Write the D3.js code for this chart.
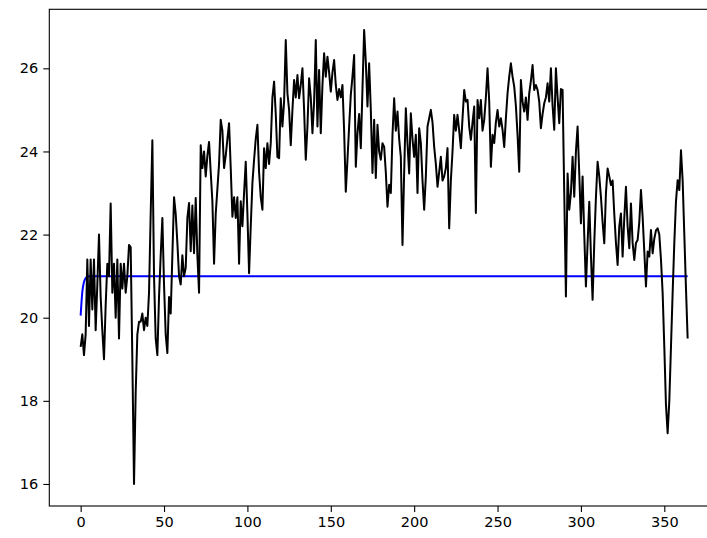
<!DOCTYPE html>
<html>
<head>
<meta charset="utf-8">
<script src="https://cdn.jsdelivr.net/npm/d3@7"></script>
<style>
    body { margin: 0; background: #fff; }
    svg { display: block; }
    .tick text { font-family: "DejaVu Sans", sans-serif; font-size: 14.5px; fill: #000; }
</style>
</head>
<body>
<svg width="707" height="538"></svg>
<script>
// measured series (one value per day, index 0..364)
var temps = [
    19.3, 19.6, 19.1, 19.6, 21.4, 19.8, 21.4, 20.2, 21.4, 19.7,
    20.8, 22.0, 20.5, 19.7, 19.0, 20.3, 21.3, 21.0, 22.75, 20.6,
    21.3, 20.0, 21.4, 19.5, 21.3, 20.7, 21.3, 20.6, 21.0, 21.75,
    21.7, 19.0, 16.0, 18.2, 19.6, 19.9, 19.9, 20.1, 19.7, 20.0,
    19.8, 20.6, 22.5, 24.27, 21.0, 19.5, 19.1, 20.5, 21.5, 22.4,
    20.8, 19.6, 19.15, 20.5, 20.1, 21.5, 22.9, 22.5, 21.8, 21.0,
    20.8, 21.5, 21.0, 21.2, 22.4, 22.76, 21.6, 22.7, 21.55, 22.88,
    21.5, 20.6, 24.15, 23.6, 24.0, 23.4, 23.9, 24.23, 23.5, 22.8,
    21.3, 22.5, 23.1, 23.7, 24.76, 24.5, 23.6, 23.9, 24.3, 24.68,
    23.6, 22.43, 22.9, 22.4, 22.9, 21.3, 22.8, 22.2, 23.0, 23.75,
    22.5, 21.07, 22.2, 23.24, 23.8, 24.3, 24.64, 23.5, 22.9, 22.6,
    24.08, 23.6, 24.2, 23.7, 24.2, 25.3, 25.68, 24.9, 23.87, 23.84,
    25.28, 24.6, 25.2, 26.68, 25.4, 25.0, 24.15, 25.0, 25.72, 25.3,
    25.84, 25.28, 25.6, 26.0, 25.0, 23.8, 24.6, 25.76, 25.3, 24.44,
    25.2, 26.68, 24.6, 25.96, 24.44, 25.6, 26.36, 25.8, 26.28, 25.9,
    25.44, 25.9, 26.2, 25.6, 25.24, 25.5, 25.3, 25.6, 24.5, 23.03,
    23.8, 24.6, 25.36, 25.8, 26.32, 23.63, 24.44, 24.9, 24.08, 25.5,
    26.92, 26.16, 25.08, 26.12, 25.0, 23.48, 24.76, 23.36, 24.64, 24.0,
    23.8, 24.2, 24.11, 23.5, 22.67, 23.2, 23.0, 24.4, 25.28, 24.5,
    24.96, 24.3, 23.87, 21.75, 23.5, 25.04, 24.2, 23.47, 24.92, 24.3,
    23.87, 24.4, 23.0, 24.56, 24.2, 23.3, 22.6, 23.4, 24.6, 24.8,
    25.0, 24.7, 24.11, 23.7, 23.15, 23.5, 23.87, 23.3, 23.4, 23.6,
    24.08, 22.15, 23.3, 24.0, 24.88, 24.5, 24.88, 24.5, 24.08, 24.8,
    25.48, 25.2, 25.24, 24.6, 24.28, 24.7, 25.08, 22.52, 25.24, 24.8,
    25.24, 24.5, 24.76, 25.3, 26.0, 25.2, 23.63, 24.4, 24.2, 24.7,
    25.0, 24.6, 24.8, 24.52, 24.11, 24.8, 25.4, 25.8, 26.12, 25.8,
    25.56, 25.1, 24.4, 23.51, 25.72, 25.2, 24.96, 25.3, 24.76, 25.4,
    25.7, 26.08, 25.48, 25.6, 25.48, 25.2, 24.56, 24.9, 25.16, 25.3,
    25.64, 25.2, 26.0, 25.1, 24.52, 26.0, 25.3, 24.68, 25.5, 25.48,
    23.0, 20.51, 23.47, 22.6, 23.0, 23.87, 22.91, 24.0, 24.6, 23.47,
    22.27, 23.4, 22.0, 20.75, 21.8, 22.79, 21.5, 20.43, 21.8, 22.9,
    23.75, 23.4, 22.91, 22.3, 21.79, 23.0, 23.59, 23.4, 23.19, 23.3,
    22.5, 21.8, 21.27, 22.2, 22.51, 21.47, 22.4, 23.15, 22.2, 21.67,
    22.75, 21.8, 21.39, 21.8, 21.87, 22.3, 23.07, 22.43, 21.6, 20.75,
    21.59, 21.47, 22.11, 21.55, 21.9, 22.1, 22.15, 22.0, 21.4, 20.6,
    19.3, 17.9, 17.22, 18.0, 19.3, 20.6, 21.8, 22.8, 23.31, 23.07,
    24.03, 23.3, 22.0, 20.7, 19.5
];

// the blue curve: quick rise from 20.05, then flat at 21
var setDays = [0, 1, 2, 3, 4, 5, 364];
var setValues = [20.05, 20.62, 20.86, 20.95, 20.98, 21.0, 21.0];

var xTicks = [0, 50, 100, 150, 200, 250, 300, 350];
var yTicks = [16, 18, 20, 22, 24, 26];

var svg = d3.select("svg");

var x = d3.scaleLinear()
    .domain([-18.8, 382.2])
    .range([49.3, 718]);

var y = d3.scaleLinear()
    .domain([15.47, 27.42])
    .range([506, 9.3]);

var line = d3.line()
    .x(function (d) { return x(d[0]); })
    .y(function (d) { return y(d[1]); });

var blueData = setDays.map(function (d, i) { return [d, setValues[i]]; });
var blackData = temps.map(function (v, i) { return [i, v]; });

svg.append("path")
    .datum(blueData)
    .attr("fill", "none")
    .attr("stroke", "#0000ff")
    .attr("stroke-width", 2)
    .attr("d", d3.line().curve(d3.curveMonotoneX)
        .x(function (d) { return x(d[0]); })
        .y(function (d) { return y(d[1]); }));

svg.append("path")
    .datum(blackData)
    .attr("fill", "none")
    .attr("stroke", "#000")
    .attr("stroke-width", 2)
    .attr("stroke-linejoin", "round")
    .attr("d", line);

// frame (right side falls outside the picture)
svg.append("rect")
    .attr("x", x.range()[0])
    .attr("y", y.range()[1])
    .attr("width", x.range()[1] - x.range()[0])
    .attr("height", y.range()[0] - y.range()[1])
    .attr("fill", "none")
    .attr("stroke", "#000")
    .attr("stroke-width", 1.1);

var xAxis = svg.append("g")
    .attr("transform", "translate(0," + y.range()[0] + ")")
    .call(d3.axisBottom(x).tickValues(xTicks).tickSize(6).tickPadding(5));

var yAxis = svg.append("g")
    .attr("transform", "translate(" + x.range()[0] + ",0)")
    .call(d3.axisLeft(y).tickValues(yTicks).tickSize(6).tickPadding(5));

[xAxis, yAxis].forEach(function (g) {
    g.select(".domain").remove();
    g.selectAll(".tick line").attr("stroke", "#000").attr("stroke-width", 1.1);
});
</script>
</body>
</html>
